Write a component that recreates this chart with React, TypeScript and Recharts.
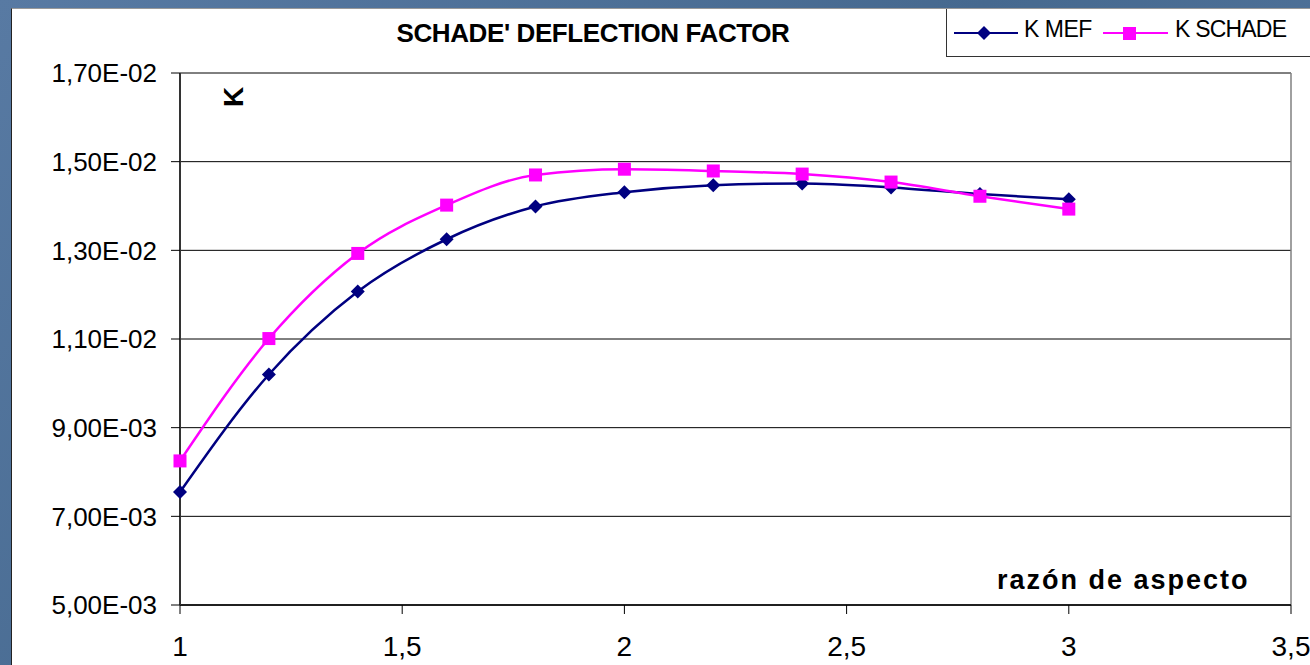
import React from "react";
import {
  LineChart, Line, XAxis, YAxis, CartesianGrid, ReferenceLine,
} from "recharts";

const aspectRatio = [1, 1.2, 1.4, 1.6, 1.8, 2, 2.2, 2.4, 2.6, 2.8, 3];
const kMef = [0.00755, 0.0102, 0.01207, 0.01325, 0.01399, 0.01431, 0.01447, 0.01451, 0.01442, 0.01427, 0.01415];
const kSchade = [0.00825, 0.01101, 0.01293, 0.01402, 0.0147, 0.01483, 0.01479, 0.01472, 0.01454, 0.01422, 0.01393];
const xTicks = [1, 1.5, 2, 2.5, 3, 3.5];
const yTicks = [0.005, 0.007, 0.009, 0.011, 0.013, 0.015, 0.017];

const data = aspectRatio.map((x, i) => ({ x, mef: kMef[i], schade: kSchade[i] }));

const NAVY = "#000080";
const PINK = "#FF00FF";
const FONT = "'Liberation Sans', Arial, sans-serif";

function fmtY(v: number) {
  const [m, e] = v.toExponential(2).split("e");
  const exp = parseInt(e, 10);
  return `${m.replace(".", ",")}E${exp < 0 ? "-" : "+"}${String(Math.abs(exp)).padStart(2, "0")}`;
}

const fmtX = (v: number) => String(v).replace(".", ",");

const Diamond = (props: any) => {
  const { cx, cy } = props;
  if (cx == null || cy == null) return null;
  const r = 7;
  return <polygon points={`${cx},${cy - r} ${cx + r},${cy} ${cx},${cy + r} ${cx - r},${cy}`} fill={NAVY} />;
};

const Square = (props: any) => {
  const { cx, cy } = props;
  if (cx == null || cy == null) return null;
  return <rect x={cx - 6.5} y={cy - 6.5} width={13} height={13} fill={PINK} />;
};

// legend box drawn by hand, Excel-style, top right corner
function LegendBox() {
  return (
    <div style={{
      position: "absolute", left: 946, top: 9, width: 370, height: 47, background: "#fff",
      border: "1px solid #333", borderTop: "none", fontFamily: FONT, fontSize: 23, color: "#000",
    }}>
      <svg width={230} height={47} style={{ position: "absolute", left: 0, top: 0 }}>
        <line x1={7} x2={71} y1={24} y2={24} stroke={NAVY} strokeWidth={2} />
        <polygon points="37,17 44,24 37,31 30,24" fill={NAVY} />
        <line x1={156} x2={221} y1={24} y2={24} stroke={PINK} strokeWidth={2} />
        <rect x={176} y={18} width={13} height={13} fill={PINK} />
      </svg>
      <span style={{ position: "absolute", left: 77, top: 9, lineHeight: "23px", letterSpacing: -0.5 }}>K MEF</span>
      <span style={{ position: "absolute", left: 228, top: 9, lineHeight: "23px", letterSpacing: -0.8 }}>K SCHADE</span>
    </div>
  );
}

export default function App() {
  return (
    <div style={{
      position: "absolute", left: 0, top: 0, width: 1310, height: 665, overflow: "hidden",
      background: "linear-gradient(135deg, #587aa3 0%, #46698f 50%, #5a7ca5 100%)",
    }}>
      <div style={{
        position: "absolute", left: 11, top: 8, width: 1299, height: 657, background: "#fff",
        borderLeft: "1px solid #222", borderTop: "1px solid #999",
      }} />
      <div style={{ position: "absolute", left: 12, top: 9 }}>
        <LineChart width={1298} height={656} data={data} margin={{ top: 64, right: 19, bottom: 0, left: 0 }}>
          <CartesianGrid vertical={false} stroke="#000" strokeWidth={1} />
          <ReferenceLine x={3.5} stroke="#808080" strokeWidth={1.5} />
          <XAxis
            dataKey="x" type="number" domain={[1, 3.5]} ticks={xTicks} tickFormatter={fmtX}
            height={60} tickSize={9} tickMargin={22} interval={0}
            axisLine={{ stroke: "#000", strokeWidth: 1.5 }} tickLine={{ stroke: "#000" }}
            tick={{ fontSize: 28, fill: "#000", fontFamily: FONT }}
          />
          <YAxis
            type="number" domain={[0.005, 0.017]} ticks={yTicks} tickFormatter={fmtY}
            width={168} tickSize={9} tickMargin={14} interval={0}
            axisLine={{ stroke: "#333", strokeWidth: 2 }} tickLine={{ stroke: "#000" }}
            tick={{ fontSize: 26, fill: "#000", fontFamily: FONT }}
          />
          <Line name="K MEF" dataKey="mef" type="monotone" stroke={NAVY} strokeWidth={2.5}
            dot={<Diamond />} activeDot={false} isAnimationActive={false} />
          <Line name="K SCHADE" dataKey="schade" type="monotone" stroke={PINK} strokeWidth={2.5}
            dot={<Square />} activeDot={false} isAnimationActive={false} />
        </LineChart>
      </div>
      <LegendBox />
      <div style={{
        position: "absolute", left: 593, top: 20, transform: "translateX(-50%)", whiteSpace: "nowrap",
        fontFamily: FONT, fontWeight: "bold", fontSize: 26, lineHeight: "26px", color: "#000", letterSpacing: -0.4,
      }}>SCHADE' DEFLECTION FACTOR</div>
      <div style={{
        position: "absolute", left: 234, top: 97, transform: "translate(-50%, -50%) rotate(-90deg)",
        fontFamily: FONT, fontWeight: "bold", fontSize: 28, lineHeight: "28px", color: "#000",
      }}>K</div>
      <div style={{
        position: "absolute", left: 997, top: 567, whiteSpace: "nowrap",
        fontFamily: FONT, fontWeight: "bold", fontSize: 27, lineHeight: "27px", color: "#000", letterSpacing: 2,
      }}>razón de aspecto</div>
    </div>
  );
}
